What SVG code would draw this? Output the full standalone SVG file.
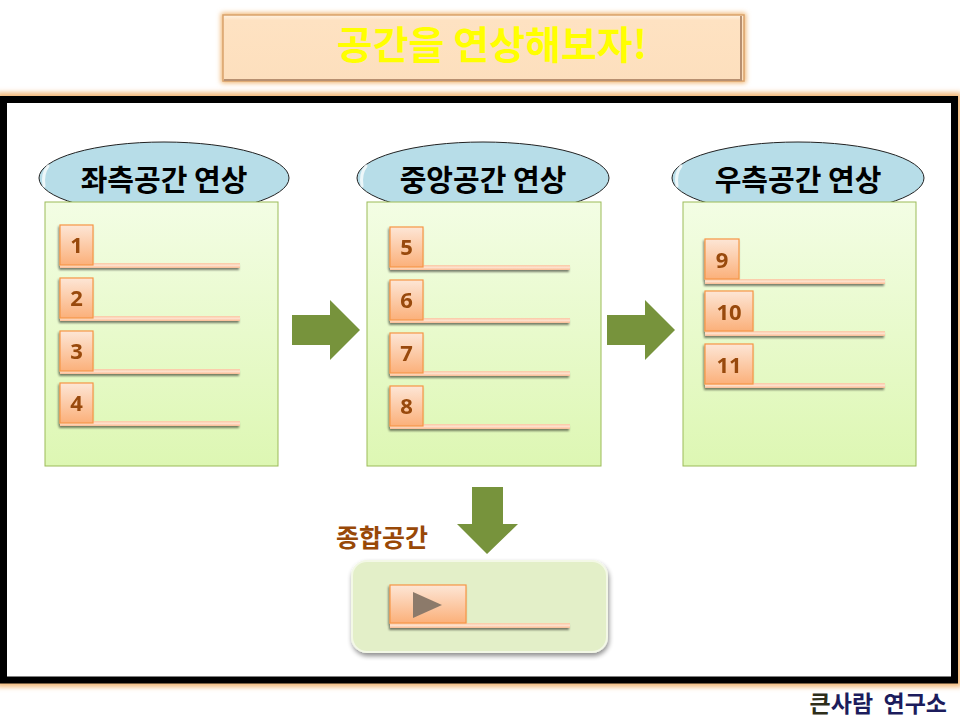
<svg xmlns="http://www.w3.org/2000/svg" width="960" height="720" viewBox="0 0 960 720">
<defs>
<style>
.t{font-family:"Noto Sans CJK KR","Noto Sans",sans-serif;font-weight:bold}
.hd{font-size:29px;fill:#000;text-anchor:middle}
.num{font-size:22px;fill:#984807;text-anchor:middle;font-family:"Noto Sans","Liberation Sans",sans-serif;font-weight:bold}
.box{fill:url(#gBox);stroke:#9bbb59;stroke-width:1}
.ell{fill:#b7dde8;stroke:#222;stroke-width:1}
.sq{fill:url(#gSq);stroke:#f79646;stroke-width:1.2}
.ln{fill:url(#gLn)}
.arr{fill:#77933c}
.hl{fill:none;stroke:#ffffff;stroke-width:3;opacity:0.75;stroke-linecap:round}
</style>
<linearGradient id="gBox" x1="0" y1="0" x2="0" y2="1">
<stop offset="0" stop-color="#f3fde4"/>
<stop offset="1" stop-color="#ddf7b3"/>
</linearGradient>
<linearGradient id="gSq" x1="0" y1="0" x2="0" y2="1">
<stop offset="0" stop-color="#fde6d6"/>
<stop offset="1" stop-color="#fbb07a"/>
</linearGradient>
<linearGradient id="gLn" x1="0" y1="0" x2="0" y2="1">
<stop offset="0" stop-color="#fbc8a4"/>
<stop offset="0.5" stop-color="#fde0cc"/>
<stop offset="1" stop-color="#f9bb92"/>
</linearGradient>
<linearGradient id="gTitle" x1="0" y1="0" x2="0" y2="1">
<stop offset="0" stop-color="#fff2e2"/>
<stop offset="0.08" stop-color="#fee2c2"/>
<stop offset="1" stop-color="#fddfbd"/>
</linearGradient>
<filter id="glow" x="-10%" y="-30%" width="120%" height="160%">
<feGaussianBlur stdDeviation="2.5"/>
</filter>
<filter id="drop" x="-10%" y="-10%" width="125%" height="130%">
<feGaussianBlur in="SourceAlpha" stdDeviation="2.5"/>
<feOffset dx="1" dy="3" result="o"/>
<feComponentTransfer in="o" result="s"><feFuncA type="linear" slope="0.45"/></feComponentTransfer>
<feMerge><feMergeNode in="s"/><feMergeNode in="SourceGraphic"/></feMerge>
</filter>
<filter id="sqsh" x="-20%" y="-20%" width="140%" height="150%">
<feGaussianBlur in="SourceAlpha" stdDeviation="1"/>
<feOffset dx="-1" dy="2" result="o"/>
<feComponentTransfer in="o" result="s"><feFuncA type="linear" slope="0.5"/></feComponentTransfer>
<feMerge><feMergeNode in="s"/><feMergeNode in="SourceGraphic"/></feMerge>
</filter>
</defs>
<rect width="960" height="720" fill="#ffffff"/>

<!-- Title -->
<g id="title">
<rect x="221" y="13" width="525" height="70" fill="#f0b46e" filter="url(#glow)"/>
<rect x="223" y="15" width="521" height="66" fill="url(#gTitle)" stroke="#d9a36c" stroke-width="1.5"/>
<path d="M741 16 V80 H224" fill="none" stroke="#b89070" stroke-width="2"/>
<text class="t" x="492" y="59" font-size="39" fill="#ffff00" text-anchor="middle">공간을 연상해보자!</text>
</g>

<!-- Frame -->
<g id="frame">
<rect x="3.5" y="99.5" width="951" height="580.5" fill="none" stroke="#f2b878" stroke-width="14" filter="url(#glow)"/>
<rect x="3.5" y="99.5" width="951" height="580.5" fill="#ffffff" stroke="#000000" stroke-width="7"/>
</g>

<!-- Left column -->
<g id="left">
<ellipse class="ell" cx="164" cy="178" rx="125" ry="36"/>
<path class="hl" d="M44 186 Q42 174 48 166"/>
<text class="t hd" x="164" y="191">좌측공간 연상</text>
<rect class="box" x="45" y="202" width="233" height="264"/>
</g>
<g id="item1" filter="url(#sqsh)"><rect class="ln" x="60" y="263" width="180" height="5"/><rect class="sq" x="60" y="225" width="33" height="40"/><text class="num" x="76.5" y="253">1</text></g>
<g id="item2" filter="url(#sqsh)"><rect class="ln" x="60" y="316" width="180" height="5"/><rect class="sq" x="60" y="278" width="33" height="40"/><text class="num" x="76.5" y="306">2</text></g>
<g id="item3" filter="url(#sqsh)"><rect class="ln" x="60" y="369" width="180" height="5"/><rect class="sq" x="60" y="331" width="33" height="40"/><text class="num" x="76.5" y="359">3</text></g>
<g id="item4" filter="url(#sqsh)"><rect class="ln" x="60" y="421" width="180" height="5"/><rect class="sq" x="60" y="383" width="33" height="40"/><text class="num" x="76.5" y="411">4</text></g>

<!-- Middle column -->
<g id="middle">
<ellipse class="ell" cx="483" cy="178" rx="126" ry="36"/>
<path class="hl" d="M362 186 Q360 174 366 166"/>
<text class="t hd" x="483" y="191">중앙공간 연상</text>
<rect class="box" x="367" y="202" width="234" height="264"/>
</g>
<g id="item5" filter="url(#sqsh)"><rect class="ln" x="390" y="265" width="180" height="5"/><rect class="sq" x="390" y="227" width="33" height="40"/><text class="num" x="406.5" y="255">5</text></g>
<g id="item6" filter="url(#sqsh)"><rect class="ln" x="390" y="318" width="180" height="5"/><rect class="sq" x="390" y="280" width="33" height="40"/><text class="num" x="406.5" y="308">6</text></g>
<g id="item7" filter="url(#sqsh)"><rect class="ln" x="390" y="371" width="180" height="5"/><rect class="sq" x="390" y="333" width="33" height="40"/><text class="num" x="406.5" y="361">7</text></g>
<g id="item8" filter="url(#sqsh)"><rect class="ln" x="390" y="424" width="180" height="5"/><rect class="sq" x="390" y="386" width="33" height="40"/><text class="num" x="406.5" y="414">8</text></g>

<!-- Right column -->
<g id="right">
<ellipse class="ell" cx="798" cy="178" rx="126" ry="36"/>
<path class="hl" d="M677 186 Q675 174 681 166"/>
<text class="t hd" x="798" y="191">우측공간 연상</text>
<rect class="box" x="683" y="202" width="233" height="264"/>
</g>
<g id="item9" filter="url(#sqsh)"><rect class="ln" x="705" y="279" width="180" height="5"/><rect class="sq" x="705" y="239" width="34" height="40"/><text class="num" x="722" y="268">9</text></g>
<g id="item10" filter="url(#sqsh)"><rect class="ln" x="705" y="331" width="180" height="5"/><rect class="sq" x="705" y="291" width="48" height="40"/><text class="num" x="729" y="320">10</text></g>
<g id="item11" filter="url(#sqsh)"><rect class="ln" x="705" y="383" width="180" height="5"/><rect class="sq" x="705" y="344" width="48" height="40"/><text class="num" x="729" y="373">11</text></g>

<!-- Connectors -->
<g id="connectors">
<polygon class="arr" points="292,315 330,315 330,300 360,330 330,360 330,345 292,345"/>
<polygon class="arr" points="607,315 645,315 645,300 675,330 645,360 645,345 607,345"/>
<polygon class="arr" points="472,487 503,487 503,524 518,524 487,554 457,524 472,524"/>
</g>

<!-- Summary -->
<g id="summary">
<text class="t" x="336" y="547" font-size="25" fill="#984807">종합공간</text>
<rect x="352" y="561" width="255" height="91" rx="15" fill="#e3efc8" stroke="#f3f8e6" stroke-width="2" filter="url(#drop)"/>
<g filter="url(#sqsh)">
<rect class="ln" x="390" y="623" width="180" height="5"/>
<rect class="sq" x="390" y="585" width="76" height="38"/>
</g>
<polygon points="413,592 413,618 442,605" fill="#8c7a6a"/>
</g>

<!-- Footer -->
<g id="footer">
<text class="t" x="947" y="712" font-size="23" text-anchor="end" fill="#1c1c5c" xml:space="preserve"><tspan fill="#2e2e1a">큰</tspan>사람  연구소</text>
</g>
</svg>
